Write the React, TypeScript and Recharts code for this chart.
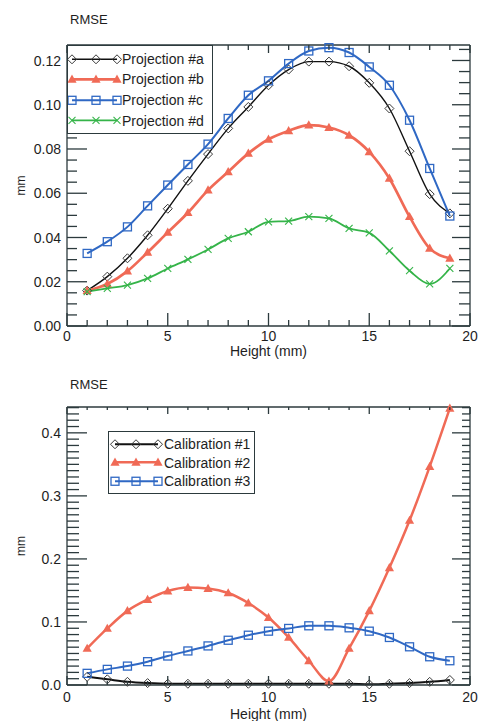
import React from 'react';
import { LineChart, Line, XAxis, YAxis, Legend, Label } from 'recharts';

// ---------- data ----------
const heights = [1, 2, 3, 4, 5, 6, 7, 8, 9, 10, 11, 12, 13, 14, 15, 16, 17, 18, 19];

const projA = [0.016, 0.0223, 0.0306, 0.041, 0.053, 0.0656, 0.0777, 0.0893, 0.099, 0.1088, 0.1159, 0.1195, 0.1195, 0.1174, 0.1099, 0.0983, 0.079, 0.0596, 0.0509];
const projB = [0.016, 0.019, 0.0248, 0.0333, 0.0423, 0.0512, 0.0614, 0.0697, 0.078, 0.0844, 0.0882, 0.0908, 0.0897, 0.0862, 0.0787, 0.0667, 0.0494, 0.0351, 0.0306];
const projC = [0.0328, 0.0381, 0.0448, 0.0543, 0.0637, 0.073, 0.0822, 0.0938, 0.1043, 0.1108, 0.1186, 0.1243, 0.1258, 0.1236, 0.1171, 0.1088, 0.093, 0.0712, 0.0497];
const projD = [0.0155, 0.017, 0.0185, 0.0215, 0.026, 0.0301, 0.0346, 0.0396, 0.0426, 0.0471, 0.0474, 0.0494, 0.0486, 0.0441, 0.0421, 0.034, 0.025, 0.019, 0.026];

const calib1 = [0.013, 0.009, 0.005, 0.003, 0.002, 0.002, 0.002, 0.002, 0.002, 0.002, 0.002, 0.002, 0.002, 0.002, 0.001, 0.002, 0.003, 0.005, 0.008];
const calib2 = [0.058, 0.0897, 0.1176, 0.1356, 0.149, 0.1546, 0.153, 0.146, 0.13, 0.107, 0.0754, 0.0385, 0.006, 0.058, 0.1176, 0.186, 0.261, 0.3465, 0.439];
const calib3 = [0.0185, 0.0248, 0.03, 0.037, 0.046, 0.054, 0.062, 0.071, 0.079, 0.0854, 0.0897, 0.0939, 0.0939, 0.0907, 0.0854, 0.0754, 0.0606, 0.0448, 0.0385];

const projNames = ['Projection #a', 'Projection #b', 'Projection #c', 'Projection #d'];
const calibNames = ['Calibration #1', 'Calibration #2', 'Calibration #3'];

const xMajorTicks = [0, 5, 10, 15, 20];
const topYMajorTicks = [0, 0.02, 0.04, 0.06, 0.08, 0.1, 0.12];
const botYMajorTicks = [0, 0.1, 0.2, 0.3, 0.4];

const xTitle = 'Height (mm)';
const yTitle = 'mm';
const panelTitle = 'RMSE';

// ---------- helpers ----------
const steps = (from: number, to: number, step: number) => {
  const out: number[] = [];
  const n = Math.round((to - from) / step);
  for (let i = 0; i <= n; i++) out.push(Math.round((from + i * step) * 1e6) / 1e6);
  return out;
};
const xMinorTicks = steps(0, 20, 1);
const topYMinorTicks = steps(0, 0.125, 0.005);
const botYMinorTicks = steps(0, 0.44, 0.01);

const FONT = '"Liberation Sans", Arial, Helvetica, sans-serif';
const AXIS = '#2c3a3d';
const TEXT = '#1e1e1e';

const BLACK = '#111111';
const RED = '#f06a56';
const BLUE = '#2f68c4';
const GREEN = '#35b449';

const CHART_W = 479;
const Y_AXIS_W = 50;
const X_AXIS_H = 31;

type Shape = 'diamond' | 'triangle' | 'square' | 'cross';

function Marker({ shape, cx, cy, color }: { shape: Shape; cx: number; cy: number; color: string }) {
  if (cx == null || cy == null || isNaN(cx) || isNaN(cy)) return <g />;
  switch (shape) {
    case 'diamond':
      return (
        <polygon
          points={`${cx},${cy - 4.5} ${cx + 4.5},${cy} ${cx},${cy + 4.5} ${cx - 4.5},${cy}`}
          fill="none"
          stroke="#3a3a3a"
          strokeWidth={1}
        />
      );
    case 'triangle':
      return (
        <polygon
          points={`${cx},${cy - 4.8} ${cx + 4.6},${cy + 3.4} ${cx - 4.6},${cy + 3.4}`}
          fill={color}
          stroke="none"
        />
      );
    case 'square':
      return <rect x={cx - 4} y={cy - 4} width={8} height={8} fill="none" stroke={color} strokeWidth={1.3} />;
    case 'cross':
    default:
      return (
        <g stroke={color} strokeWidth={1.1}>
          <line x1={cx - 3.5} y1={cy - 3.5} x2={cx + 3.5} y2={cy + 3.5} />
          <line x1={cx - 3.5} y1={cy + 3.5} x2={cx + 3.5} y2={cy - 3.5} />
        </g>
      );
  }
}

// Tick renderer for the primary axes: draws the inward tick, its mirrored
// twin on the opposite side of the frame, and the label for major ticks.
type TickCfg = {
  side: 'left' | 'bottom';
  majors: number[];
  majorLen: number;
  minorLen: number;
  mirrorMajorLen: number;
  mirrorMinorLen: number;
  span: number;
  fmt: (v: number) => string;
  labelOffset?: number;
};

function makeTick(cfg: TickCfg) {
  return (p: any) => {
    const x = Number(p.x);
    const y = Number(p.y);
    const v = Number(p.payload.value);
    const isMajor = cfg.majors.some((m) => Math.abs(m - v) < 1e-9);
    const len = isMajor ? cfg.majorLen : cfg.minorLen;
    const mlen = isMajor ? cfg.mirrorMajorLen : cfg.mirrorMinorLen;
    if (cfg.side === 'left') {
      const xr = x + cfg.span;
      return (
        <g>
          <line x1={x} y1={y} x2={x + len} y2={y} stroke={AXIS} strokeWidth={1.3} />
          <line x1={xr} y1={y} x2={xr - mlen} y2={y} stroke={AXIS} strokeWidth={1.3} />
          {isMajor && (
            <text x={x - 6} y={y} dy="0.36em" textAnchor="end" fontSize={14} fontFamily={FONT} fill={TEXT}>
              {cfg.fmt(v)}
            </text>
          )}
        </g>
      );
    }
    const yt = y - cfg.span;
    return (
      <g>
        <line x1={x} y1={y} x2={x} y2={y - len} stroke={AXIS} strokeWidth={1.3} />
        <line x1={x} y1={yt} x2={x} y2={yt + mlen} stroke={AXIS} strokeWidth={1.3} />
        {isMajor && (
          <text x={x} y={y + (cfg.labelOffset ?? 15)} textAnchor="middle" fontSize={14} fontFamily={FONT} fill={TEXT}>
            {cfg.fmt(v)}
          </text>
        )}
      </g>
    );
  };
}

type Series = { key: string; name: string; color: string; width: number; shape: Shape };

type LegendCfg = {
  left: number;
  top: number;
  rowH: number;
  padTop: number;
  padRight: number;
  svgW: number;
  markerXs: number[];
};

function LegendBox({ payload, series, cfg }: { payload?: any[]; series: Series[]; cfg: LegendCfg }) {
  const raw = (payload && payload.length ? payload : series.map((s) => ({ dataKey: s.key, value: s.name, color: s.color }))) as any[];
  const items = raw.filter((it) => series.some((s) => s.key === it.dataKey) && it.type !== 'none');
  const seen = new Set<string>();
  const uniq = items.filter((it) => {
    const k = String(it.dataKey);
    if (seen.has(k)) return false;
    seen.add(k);
    return true;
  });
  return (
    <div
      style={{
        border: `1px solid ${AXIS}`,
        background: '#fff',
        paddingTop: cfg.padTop,
        paddingBottom: cfg.padTop,
        paddingRight: cfg.padRight,
        display: 'inline-block',
        boxSizing: 'border-box',
      }}
    >
      {uniq.map((it) => {
        const s = series.find((q) => q.key === it.dataKey) || series[0];
        const mid = cfg.rowH / 2;
        return (
          <div key={String(it.dataKey)} style={{ display: 'flex', alignItems: 'center', height: cfg.rowH }}>
            <svg width={cfg.svgW} height={cfg.rowH} style={{ display: 'block' }}>
              <line
                x1={cfg.markerXs[0]}
                x2={cfg.markerXs[cfg.markerXs.length - 1]}
                y1={mid}
                y2={mid}
                stroke={s.color}
                strokeWidth={s.width}
              />
              {cfg.markerXs.map((mx, i) => (
                <Marker key={i} shape={s.shape} cx={mx} cy={mid} color={s.color} />
              ))}
            </svg>
            <span style={{ fontFamily: FONT, fontSize: 14, color: TEXT, whiteSpace: 'nowrap', lineHeight: 1 }}>
              {s.name}
            </span>
          </div>
        );
      })}
    </div>
  );
}

type PanelProps = {
  data: any[];
  series: Series[];
  height: number;
  margin: { top: number; right: number; bottom: number; left: number };
  yDomain: [number, number];
  yMajor: number[];
  yMinor: number[];
  yFmt: (v: number) => string;
  xTick: { bMaj: number; bMin: number; tMaj: number; tMin: number; labelOffset: number };
  yTick: { lMaj: number; lMin: number; rMaj: number; rMin: number };
  xLabelOffset: number;
  legend: LegendCfg;
};

function Panel(p: PanelProps) {
  const plotW = CHART_W - p.margin.left - Y_AXIS_W - p.margin.right - 1;
  const plotH = p.height - p.margin.top - 1 - p.margin.bottom - X_AXIS_H;
  return (
    <LineChart width={CHART_W} height={p.height} data={p.data} margin={p.margin}>
      <XAxis
        xAxisId="b"
        orientation="bottom"
        dataKey="x"
        type="number"
        domain={[0, 20]}
        ticks={xMinorTicks}
        interval={0}
        tickSize={0}
        tickMargin={0}
        height={X_AXIS_H}
        axisLine={{ stroke: AXIS, strokeWidth: 1.3 }}
        tickLine={false}
        tick={makeTick({
          side: 'bottom',
          majors: xMajorTicks,
          majorLen: p.xTick.bMaj,
          minorLen: p.xTick.bMin,
          mirrorMajorLen: p.xTick.tMaj,
          mirrorMinorLen: p.xTick.tMin,
          span: plotH,
          fmt: (v) => String(v),
          labelOffset: p.xTick.labelOffset,
        })}
      >
        <Label
          value={xTitle}
          position="insideBottom"
          offset={p.xLabelOffset}
          style={{ fontFamily: FONT, fontSize: 14, fill: TEXT }}
        />
      </XAxis>
      <XAxis
        xAxisId="t"
        orientation="top"
        dataKey="x"
        type="number"
        domain={[0, 20]}
        tick={false}
        tickLine={false}
        height={1}
        axisLine={{ stroke: AXIS, strokeWidth: 1.3 }}
      />
      <YAxis
        yAxisId="l"
        orientation="left"
        type="number"
        domain={p.yDomain}
        ticks={p.yMinor}
        interval={0}
        tickSize={0}
        tickMargin={0}
        width={Y_AXIS_W}
        axisLine={{ stroke: AXIS, strokeWidth: 1.3 }}
        tickLine={false}
        tick={makeTick({
          side: 'left',
          majors: p.yMajor,
          majorLen: p.yTick.lMaj,
          minorLen: p.yTick.lMin,
          mirrorMajorLen: p.yTick.rMaj,
          mirrorMinorLen: p.yTick.rMin,
          span: plotW,
          fmt: p.yFmt,
        })}
      >
        <Label
          value={yTitle}
          angle={-90}
          position="insideLeft"
          offset={4}
          style={{ fontFamily: FONT, fontSize: 12, fill: TEXT, textAnchor: 'middle' }}
        />
      </YAxis>
      <YAxis
        yAxisId="r"
        orientation="right"
        type="number"
        domain={p.yDomain}
        tick={false}
        tickLine={false}
        width={1}
        axisLine={{ stroke: AXIS, strokeWidth: 1.3 }}
      />
      <Legend
        layout="vertical"
        align="center"
        verticalAlign="middle"
        wrapperStyle={{ left: p.legend.left, top: p.legend.top, width: 'auto', height: 'auto' }}
        content={(lp: any) => <LegendBox payload={lp.payload} series={p.series} cfg={p.legend} />}
      />
      {/* invisible companion series so the mirrored top/right frame axes get a scale */}
      <Line
        xAxisId="t"
        yAxisId="r"
        dataKey={p.series[0].key}
        stroke="none"
        dot={false}
        activeDot={false}
        legendType="none"
        isAnimationActive={false}
      />
      {p.series.map((s) => (
        <Line
          key={s.key}
          xAxisId="b"
          yAxisId="l"
          dataKey={s.key}
          name={s.name}
          type="monotone"
          stroke={s.color}
          strokeWidth={s.width}
          isAnimationActive={false}
          activeDot={false}
          dot={(dp: any) => (
            <Marker key={`${s.key}-${dp.index}`} shape={s.shape} cx={dp.cx} cy={dp.cy} color={s.color} />
          )}
        />
      ))}
    </LineChart>
  );
}

const topData = heights.map((h, i) => ({ x: h, a: projA[i], b: projB[i], c: projC[i], d: projD[i] }));
const botData = heights.map((h, i) => ({ x: h, c1: calib1[i], c2: calib2[i], c3: calib3[i] }));

const topSeries: Series[] = [
  { key: 'a', name: projNames[0], color: BLACK, width: 1.4, shape: 'diamond' },
  { key: 'b', name: projNames[1], color: RED, width: 2.7, shape: 'triangle' },
  { key: 'c', name: projNames[2], color: BLUE, width: 2, shape: 'square' },
  { key: 'd', name: projNames[3], color: GREEN, width: 1.8, shape: 'cross' },
];
const botSeries: Series[] = [
  { key: 'c1', name: calibNames[0], color: BLACK, width: 2, shape: 'diamond' },
  { key: 'c2', name: calibNames[1], color: RED, width: 2.5, shape: 'triangle' },
  { key: 'c3', name: calibNames[2], color: BLUE, width: 2, shape: 'square' },
];

export default function App() {
  return (
    <div
      style={{
        position: 'absolute',
        left: 0,
        top: 0,
        width: 479,
        height: 721,
        background: '#ffffff',
        overflow: 'hidden',
        fontFamily: FONT,
      }}
    >
      <div style={{ position: 'absolute', left: 70, top: 12, fontSize: 13, lineHeight: '16px', color: TEXT }}>
        {panelTitle}
      </div>
      <div style={{ position: 'absolute', left: 0, top: 0 }}>
        <Panel
          data={topData}
          series={topSeries}
          height={360}
          margin={{ top: 44, right: 8, bottom: 3, left: 17 }}
          yDomain={[0, 0.127]}
          yMajor={topYMajorTicks}
          yMinor={topYMinorTicks}
          yFmt={(v) => v.toFixed(2)}
          xTick={{ bMaj: 13, bMin: 6, tMaj: 8, tMin: 5, labelOffset: 14.5 }}
          yTick={{ lMaj: 20, lMin: 10, rMaj: 18, rMin: 11 }}
          xLabelOffset={1}
          legend={{ left: 67, top: 45, rowH: 20.6, padTop: 2.5, padRight: 8, svgW: 54, markerXs: [4, 28, 49] }}
        />
      </div>
      <div style={{ position: 'absolute', left: 70, top: 377, fontSize: 13, lineHeight: '16px', color: TEXT }}>
        {panelTitle}
      </div>
      <div style={{ position: 'absolute', left: 0, top: 360 }}>
        <Panel
          data={botData}
          series={botSeries}
          height={361}
          margin={{ top: 46, right: 8, bottom: 5, left: 17 }}
          yDomain={[0, 0.441]}
          yMajor={botYMajorTicks}
          yMinor={botYMinorTicks}
          yFmt={(v) => v.toFixed(1)}
          xTick={{ bMaj: 9, bMin: 4, tMaj: 7, tMin: 3, labelOffset: 17 }}
          yTick={{ lMaj: 20, lMin: 12, rMaj: 18, rMin: 8 }}
          xLabelOffset={-3}
          legend={{ left: 108, top: 71, rowH: 18.5, padTop: 2.75, padRight: 4, svgW: 55, markerXs: [6, 27, 49] }}
        />
      </div>
    </div>
  );
}
